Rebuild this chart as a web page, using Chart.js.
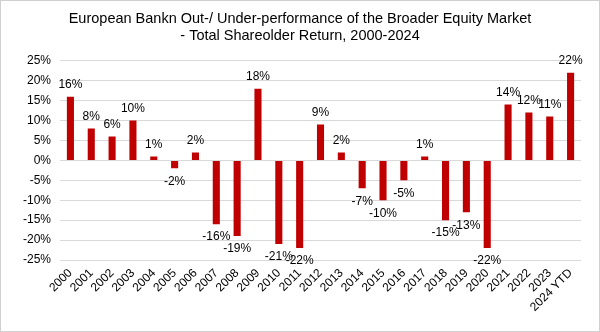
<!DOCTYPE html>
<html>
<head>
<meta charset="utf-8">
<script src="https://cdn.jsdelivr.net/npm/chart.js@4"></script>
<style>
  html, body { margin: 0; padding: 0; background: #fff; }
  #wrap { position: relative; width: 600px; height: 332px; box-sizing: border-box; border: 1px solid #d0d0d0; }
  canvas { display: block; }
</style>
</head>
<body>
<div id="wrap"><canvas id="c" width="598" height="330"></canvas></div>
<script>
const categories = ["2000","2001","2002","2003","2004","2005","2006","2007","2008","2009","2010","2011","2012","2013","2014","2015","2016","2017","2018","2019","2020","2021","2022","2023","2024 YTD"];
const returns = [16, 8, 6, 10, 1, -2, 2, -16, -19, 18, -21, -22, 9, 2, -7, -10, -5, 1, -15, -13, -22, 14, 12, 11, 22];
const titleLines = ["European Bankn Out-/ Under-performance of the Broader Equity Market", "- Total Shareolder Return, 2000-2024"];
const yMin = -25, yMax = 25, yStep = 5;

const FONT = "'Liberation Sans', Arial, sans-serif";

const valueLabels = {
  id: 'valueLabels',
  afterDatasetsDraw(chart) {
    const ctx = chart.ctx;
    const meta = chart.getDatasetMeta(0);
    ctx.save();
    ctx.font = "12px " + FONT;
    ctx.fillStyle = "#000";
    ctx.textAlign = "center";
    ctx.textBaseline = "middle";
    meta.data.forEach((bar, i) => {
      const v = returns[i];
      const y = v >= 0 ? bar.y - 12 : bar.y + 13;
      ctx.fillText(v + "%", bar.x, y);
    });
    ctx.restore();
  }
};

new Chart(document.getElementById('c'), {
  type: 'bar',
  data: {
    labels: categories,
    datasets: [{
      data: returns,
      backgroundColor: '#c00000',
      borderWidth: 0,
      barPercentage: 0.34,
      categoryPercentage: 1.0
    }]
  },
  options: {
    responsive: false,
    animation: false,
    layout: { padding: { left: 18, right: 18, top: 0, bottom: 0 } },
    plugins: {
      legend: { display: false },
      tooltip: { enabled: false },
      title: {
        display: true,
        text: titleLines,
        color: '#000',
        font: { family: FONT, size: 14.5, weight: 'normal', lineHeight: 1.2 },
        padding: { top: 9, bottom: 16 }
      }
    },
    scales: {
      x: {
        grid: { display: false, drawTicks: false },
        border: { display: false },
        ticks: {
          color: '#000',
          font: { family: FONT, size: 12 },
          minRotation: 45, maxRotation: 45,
          padding: 6,
          autoSkip: false
        },
        afterFit(scale) { scale.height = 71; }
      },
      y: {
        min: yMin, max: yMax,
        grid: { color: '#d9d9d9', lineWidth: 1, drawTicks: false },
        border: { display: false },
        ticks: {
          stepSize: yStep,
          color: '#000',
          font: { family: FONT, size: 12 },
          padding: 9,
          callback: v => v + '%'
        },
        afterFit(scale) { scale.width = 41; }
      }
    }
  },
  plugins: [valueLabels]
});
</script>
</body>
</html>
